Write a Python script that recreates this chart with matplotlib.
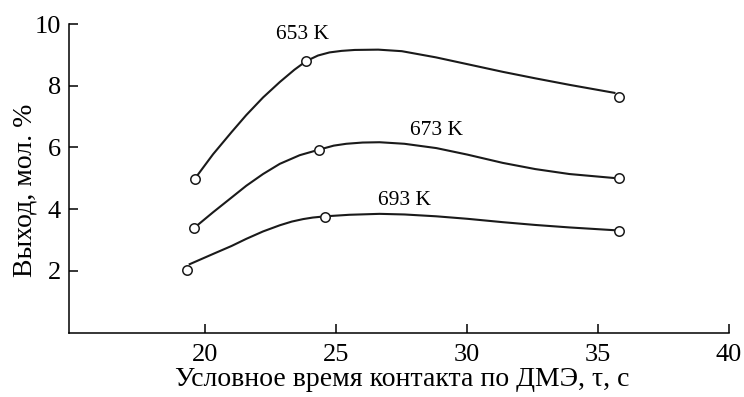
import matplotlib
matplotlib.use("Agg")
import matplotlib.pyplot as plt

plt.rcParams["font.family"] = ["Liberation Serif", "DejaVu Serif"]

# measured points (contact time, yield)
temps = ["653 K", "673 K", "693 K"]
tau_pts = {
    "653 K": [19.59, 23.85, 35.81],
    "673 K": [19.55, 24.34, 35.81],
    "693 K": [19.31, 24.58, 35.81],
}
yield_pts = {
    "653 K": [4.98, 8.81, 7.64],
    "673 K": [3.38, 5.93, 5.00],
    "693 K": [2.03, 3.76, 3.30],
}

# smoothed trend curves, traced by hand
tau_curve = {
    "653 K": [19.59, 20.29, 21.0, 21.56, 22.2, 22.84, 23.4, 23.85, 24.3, 24.74, 25.2,
              25.7, 26.6, 27.5, 28.8, 30.0, 31.36, 32.6, 33.9, 35.62],
    "673 K": [19.55, 20.29, 21.0, 21.56, 22.2, 22.84, 23.6, 24.34, 24.9, 25.38, 26.0,
              26.65, 27.6, 28.82, 30.0, 31.36, 32.6, 33.9, 35.62],
    "693 K": [19.40, 20.29, 21.0, 21.56, 22.2, 22.84, 23.3, 23.73, 24.1, 24.58, 25.5,
              26.65, 27.6, 28.82, 30.0, 31.36, 32.6, 33.9, 35.62],
}
yield_curve = {
    "653 K": [4.98, 5.78, 6.50, 7.05, 7.62, 8.12, 8.52, 8.80, 8.98, 9.08, 9.13,
              9.16, 9.17, 9.12, 8.92, 8.70, 8.45, 8.24, 8.03, 7.77],
    "673 K": [3.38, 3.90, 4.38, 4.76, 5.14, 5.47, 5.75, 5.93, 6.06, 6.12, 6.16,
              6.17, 6.12, 5.98, 5.77, 5.50, 5.30, 5.14, 5.01],
    "693 K": [2.22, 2.55, 2.81, 3.04, 3.28, 3.48, 3.60, 3.68, 3.73, 3.77, 3.82,
              3.85, 3.83, 3.77, 3.69, 3.58, 3.49, 3.41, 3.32],
}

label_pos = {
    "653 K": (23.72, 9.66),
    "673 K": (28.82, 6.55),
    "693 K": (27.6, 4.28),
}

fig = plt.figure(figsize=(7.44, 3.97), dpi=100)
ax = fig.add_axes([0.0931, 0.162, 0.8869, 0.7775])

for t in temps:
    ax.plot(tau_curve[t], yield_curve[t], color="#1a1a1a", lw=1.5,
            solid_joinstyle="round", zorder=2)
    ax.plot(tau_pts[t], yield_pts[t], "o", ms=6.8, mfc="white", mec="#1a1a1a",
            mew=1.1, zorder=3)
    ax.text(*label_pos[t], t, ha="center", va="center", fontsize=15.5)

ax.set_xlim(14.8, 40)
ax.set_ylim(0, 10)
ax.set_xticks([20, 25, 30, 35, 40])
ax.set_yticks([2, 4, 6, 8, 10])
ax.tick_params(direction="in", length=6.5, width=1.1, labelsize=19)
ax.tick_params(axis="x", pad=8)
ax.tick_params(axis="y", pad=6)
for side in ("top", "right"):
    ax.spines[side].set_visible(False)
for side in ("left", "bottom"):
    ax.spines[side].set_linewidth(1.1)

ax.set_xlabel("Условное время контакта по ДМЭ, τ, с", fontsize=20)
ax.set_ylabel("Выход, мол. %", fontsize=20)
ax.xaxis.set_label_coords(0.505, -0.112)
ax.yaxis.set_label_coords(-0.048, 0.462)

fig.savefig("out.png", dpi=100)
